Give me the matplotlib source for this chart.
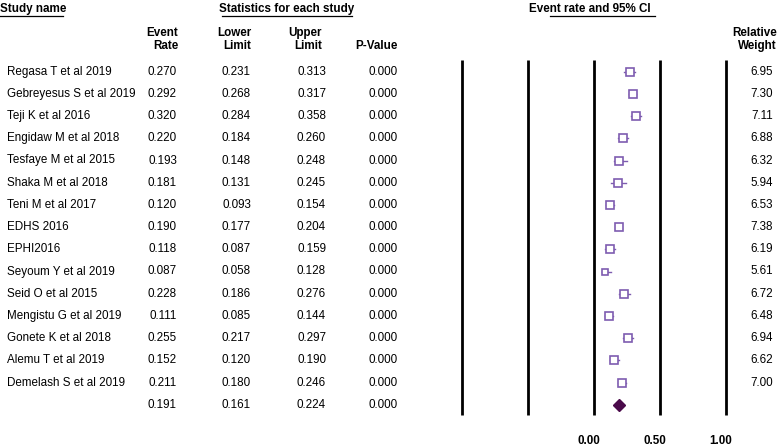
import matplotlib.pyplot as plt

plt.rcParams['font.family'] = ['Liberation Sans', 'DejaVu Sans']

# Data
studies = ['Regasa T et al 2019', 'Gebreyesus S et al 2019', 'Teji K et al 2016',
           'Engidaw M et al 2018', 'Tesfaye M et al 2015', 'Shaka M et al 2018',
           'Teni M et al 2017', 'EDHS 2016', 'EPHI2016', 'Seyoum Y et al 2019',
           'Seid O et al 2015', 'Mengistu G et al 2019', 'Gonete K et al 2018',
           'Alemu T et al 2019', 'Demelash S et al 2019']
event_rate = [0.270, 0.292, 0.320, 0.220, 0.193, 0.181, 0.120, 0.190, 0.118,
              0.087, 0.228, 0.111, 0.255, 0.152, 0.211]
lower = [0.231, 0.268, 0.284, 0.184, 0.148, 0.131, 0.093, 0.177, 0.087,
         0.058, 0.186, 0.085, 0.217, 0.120, 0.180]
upper = [0.313, 0.317, 0.358, 0.260, 0.248, 0.245, 0.154, 0.204, 0.159,
         0.128, 0.276, 0.144, 0.297, 0.190, 0.246]
p_value = [0.000] * 15
weight = [6.95, 7.30, 7.11, 6.88, 6.32, 5.94, 6.53, 7.38, 6.19, 5.61,
          6.72, 6.48, 6.94, 6.62, 7.00]

pooled = (0.191, 0.161, 0.224, 0.000)
grid_lines = [-1.0, -0.5, 0.0, 0.5, 1.0]
tick_labels = {0.0: '0.00', 0.5: '0.50', 1.0: '1.00'}

W, H = 780, 446
row0, dy = 71.7, 22.2          # pixel y of first row, row spacing
def row(ypix):
    return (ypix - row0) / dy

fig = plt.figure(figsize=(W / 100, H / 100), dpi=100)
ylim = (row(H), row(0))

# text area (pixel x, row y)
ax = fig.add_axes([0, 0, 1, 1])
ax.set_xlim(0, W)
ax.set_ylim(*ylim)
ax.axis('off')

fs = 8.4
col_x = [177, 251, 326, 398]
n = len(studies)
for i in range(n):
    ax.text(7, i, studies[i], fontsize=fs, va='center', ha='left')
    for x, vals in zip(col_x, [event_rate, lower, upper, p_value]):
        ax.text(x, i, f'{vals[i]:.3f}', fontsize=fs, va='center', ha='right')
    ax.text(773, i, f'{weight[i]:.2f}', fontsize=fs, va='center', ha='right')
for x, v in zip(col_x, pooled):
    ax.text(x, n, f'{v:.3f}', fontsize=fs, va='center', ha='right')

# headers
hy = row(9)
uy = row(16)
ax.text(0, hy, 'Study name', fontsize=fs, fontweight='bold', va='center', ha='left')
ax.plot([0, 63], [uy, uy], color='black', lw=0.9)
ax.text(287, hy, 'Statistics for each study', fontsize=fs, fontweight='bold', va='center', ha='center')
ax.plot([222, 352], [uy, uy], color='black', lw=0.9)
ax.text(590, hy, 'Event rate and 95% CI', fontsize=fs, fontweight='bold', va='center', ha='center')
ax.plot([550, 655], [uy, uy], color='black', lw=0.9)

sub_y = row(39.5)
ax.text(178, sub_y, 'Event\nRate', fontsize=fs, fontweight='bold', va='center', ha='right', linespacing=1.2)
ax.text(251, sub_y, 'Lower\nLimit', fontsize=fs, fontweight='bold', va='center', ha='right', linespacing=1.2)
ax.text(322, sub_y, 'Upper\nLimit', fontsize=fs, fontweight='bold', va='center', ha='right', linespacing=1.2)
ax.text(355, row(46), 'P-Value', fontsize=fs, fontweight='bold', va='center', ha='left')
ax.text(777, sub_y, 'Relative\nWeight', fontsize=fs, fontweight='bold', va='center', ha='right', linespacing=1.2)

# forest area: x in event-rate units, 132 px per unit, 0 at px 594
x0px, scale = 594, 132
left_px, right_px = 450, 740
axf = fig.add_axes([left_px / W, 0, (right_px - left_px) / W, 1])
axf.set_xlim((left_px - x0px) / scale, (right_px - x0px) / scale)
axf.set_ylim(*ylim)
axf.axis('off')

axf.vlines(grid_lines, row(60), row(415), color='black', lw=2.0)
for v, lab in tick_labels.items():
    axf.text(v - 0.04, row(441), lab, fontsize=fs, fontweight='bold', ha='center', va='center')

box_col = '#7E5CB0'
for i in range(n):
    axf.plot([lower[i], upper[i]], [i, i], color=box_col, lw=1.0)
    axf.plot(event_rate[i], i, marker='s', ms=weight[i] * 0.85, mfc='white',
             mec=box_col, mew=1.2, ls='none')
axf.plot(pooled[0], n, marker='D', ms=6.5, color='#4A0A4A', ls='none')

fig.savefig('out.png', dpi=100)
